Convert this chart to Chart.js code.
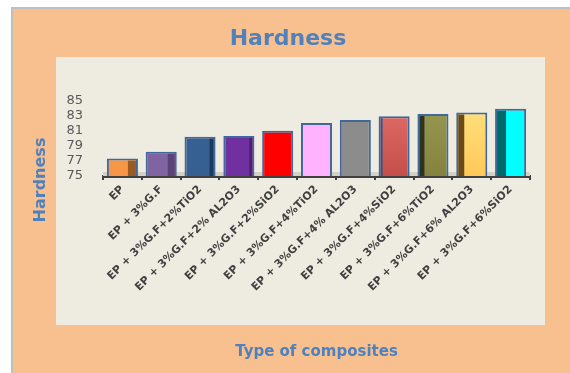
<!DOCTYPE html>
<html>
<head>
<meta charset="utf-8">
<script src="https://cdn.jsdelivr.net/npm/chart.js@4/dist/chart.umd.min.js"></script>
<style>
  html, body { margin: 0; padding: 0; background: #fff; }
  #wrap { width: 570px; height: 373px; }
</style>
</head>
<body>
<div id="wrap"><canvas id="chart" width="570" height="373"></canvas></div>
<script>
const categories = [
  'EP',
  'EP + 3%G.F',
  'EP + 3%G.F+2%TiO2',
  'EP + 3%G.F+2% AL2O3',
  'EP + 3%G.F+2%SiO2',
  'EP + 3%G.F+4%TiO2',
  'EP + 3%G.F+4% AL2O3',
  'EP + 3%G.F+4%SiO2',
  'EP + 3%G.F+6%TiO2',
  'EP + 3%G.F+6% AL2O3',
  'EP + 3%G.F+6%SiO2',
];
const hardness = [77.3, 78.2, 80.2, 80.3, 81.0, 82.0, 82.4, 82.9, 83.2, 83.4, 83.9];
const yTicks = [75, 77, 79, 81, 83, 85];

// front colour of each column; a pair means top -> bottom gradient
const faceColors = [
  '#F79646', '#8064A2', '#376092', '#7030A0', '#FF0000', '#FFB3FF',
  '#8C8C8C', ['#E46E69', '#C44E4A'], ['#999A55', '#84823E'], ['#FFE27E', '#FFC95A'], '#00FFFF',
];
// darker depth strip: width in px, negative puts it on the left
const sideWidths = [8, 7, 4, 3, 0, 0, 0, -2, -5, -6, -9];
const sideColors = [
  '#9A5B22', '#5B4378', '#1C3A5E', '#4A1F6E', null, null,
  null, '#34558A', '#2E3320', '#6A4A1C', '#006A6A',
];

const BLUE = '#4F81BD';

Chart.defaults.font.family = "'DejaVu Sans', sans-serif";

const framePlugin = {
  id: 'frame',
  beforeDraw(chart) {
    const { ctx, width, height } = chart;
    ctx.save();
    ctx.fillStyle = '#ffffff';
    ctx.fillRect(0, 0, width, height);
    ctx.fillStyle = '#BFBFBF';
    ctx.fillRect(11, 7, width, height);
    ctx.fillStyle = '#F9C08F';
    ctx.fillRect(13, 9, width, height);
    ctx.fillStyle = '#EEECE1';
    ctx.fillRect(56, 57, 489, 268);

    // vertical axis caption
    ctx.translate(41, 180);
    ctx.rotate(-Math.PI / 2);
    ctx.font = "bold 16px 'DejaVu Sans'";
    ctx.fillStyle = BLUE;
    ctx.textAlign = 'center';
    ctx.textBaseline = 'middle';
    ctx.fillText('Hardness', 0, 0);
    ctx.restore();
  },
  beforeDatasetsDraw(chart) {
    // flat floor under the columns
    const { ctx, chartArea } = chart;
    ctx.save();
    ctx.fillStyle = '#D3D1C8';
    ctx.fillRect(chartArea.left, chartArea.bottom - 4, chartArea.right - chartArea.left, 4);
    ctx.restore();
  },
  afterDatasetsDraw(chart) {
    const { ctx, chartArea } = chart;
    const meta = chart.getDatasetMeta(0);
    ctx.save();
    meta.data.forEach((bar, i) => {
      const w = sideWidths[i];
      if (!w || !sideColors[i]) return;
      const { x, y, width } = bar.getProps(['x', 'y', 'width'], true);
      const bottom = chartArea.bottom;
      const half = width / 2 - 2;
      const left = w > 0 ? x + half - w : x - half;
      ctx.fillStyle = sideColors[i];
      ctx.fillRect(left, y + 2, Math.abs(w), bottom - y - 2);
    });
    ctx.restore();
  },
};

function faceColor(context) {
  const c = faceColors[context.dataIndex];
  if (typeof c === 'string') return c;
  const area = context.chart.chartArea;
  if (!area) return c[0];
  const g = context.chart.ctx.createLinearGradient(0, area.top, 0, area.bottom);
  g.addColorStop(0, c[0]);
  g.addColorStop(1, c[1]);
  return g;
}

new Chart(document.getElementById('chart'), {
  type: 'bar',
  data: {
    labels: categories,
    datasets: [{
      data: hardness,
      backgroundColor: faceColor,
      borderColor: '#41689A',
      borderWidth: 2,
      borderSkipped: 'bottom',
      barPercentage: 0.8,
      categoryPercentage: 1,
    }],
  },
  options: {
    responsive: false,
    animation: false,
    layout: {
      padding: { left: 46, right: 40, top: 0, bottom: 0 },
    },
    plugins: {
      legend: { display: false },
      tooltip: { enabled: false },
      title: {
        display: true,
        text: 'Hardness',
        color: BLUE,
        font: { size: 22, weight: 'bold' },
        padding: { top: 26, bottom: 48 },
      },
    },
    scales: {
      x: {
        afterFit(scale) { scale.height = 197; },
        grid: {
          display: true,
          drawOnChartArea: false,
          drawTicks: true,
          tickLength: 4,
          color: '#404040',
          lineWidth: 2,
          offset: true,
        },
        border: { display: true, color: '#404040', width: 3 },
        ticks: {
          autoSkip: false,
          maxRotation: 45,
          minRotation: 45,
          padding: 3,
          color: '#404040',
          font: { size: 11, weight: 'bold' },
        },
        title: {
          display: true,
          text: 'Type of composites',
          color: BLUE,
          font: { size: 15, weight: 'bold' },
          padding: { top: 0, bottom: 12 },
        },
      },
      y: {
        min: yTicks[0],
        max: yTicks[yTicks.length - 1],
        afterFit(scale) { scale.width = 57; },
        afterBuildTicks(scale) { scale.ticks = yTicks.map((v) => ({ value: v })); },
        grid: { display: false, drawTicks: false },
        border: { display: false },
        ticks: {
          autoSkip: false,
          padding: 20,
          color: '#595959',
          font: { size: 13 },
        },
      },
    },
  },
  plugins: [framePlugin],
});
</script>
</body>
</html>
